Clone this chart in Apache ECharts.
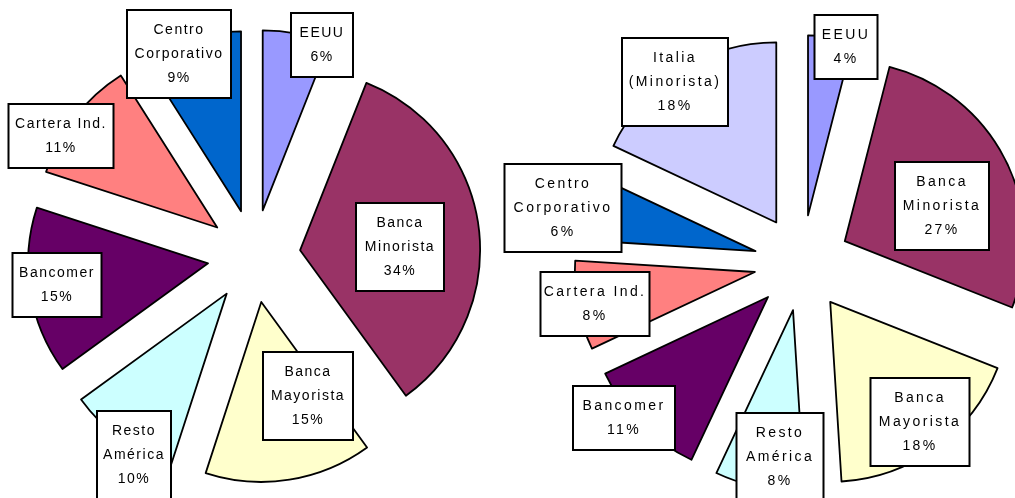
<!DOCTYPE html>
<html>
<head>
<meta charset="utf-8">
<script src="https://cdn.jsdelivr.net/npm/echarts@6/dist/echarts.min.js"></script>
<style>
html,body{margin:0;padding:0;background:#fff;}
#c{width:1015px;height:498px;}
</style>
</head>
<body>
<div id="c"></div>
<script>
// ---- data ----
const leftNames = ['EEUU', 'Banca\nMinorista', 'Banca\nMayorista', 'Resto\nAmérica', 'Bancomer', 'Cartera Ind.', 'Centro\nCorporativo'];
const leftValues = [6, 34, 15, 10, 15, 11, 9];
const rightNames = ['EEUU', 'Banca\nMinorista', 'Banca\nMayorista', 'Resto\nAmérica', 'Bancomer', 'Cartera Ind.', 'Centro\nCorporativo', 'Italia\n(Minorista)'];
const rightValues = [4, 27, 18, 8, 11, 8, 6, 18];

// ---- styles ----
const colorByName = {
  'EEUU': '#9999FF',
  'Banca\nMinorista': '#993366',
  'Banca\nMayorista': '#FFFFCC',
  'Resto\nAmérica': '#CCFFFF',
  'Bancomer': '#660066',
  'Cartera Ind.': '#FF8080',
  'Centro\nCorporativo': '#0066CC',
  'Italia\n(Minorista)': '#CCCCFF'
};
// label box layout: [centerX, centerY, boxWidth]
const leftLabelBox = [[322, 45, 60], [400, 247, 86], [308, 396, 88], [134, 455, 72], [57, 285, 87], [61, 136, 103], [179, 54, 102]];
const rightLabelBox = [[846, 47, 61], [942, 206, 92], [920, 422, 97], [780, 457, 85], [624, 418, 100], [595, 304, 107], [563, 208, 115], [675, 82, 104]];

const LEFT_FONT = "'Liberation Sans', sans-serif";
const RIGHT_FONT = "'Liberation Sans', Arial";

// letter spacing as in the reference's label text
(function () {
  const proto = CanvasRenderingContext2D.prototype;
  const origFill = proto.fillText;
  proto.fillText = function () {
    const f = this.font || '';
    if ('letterSpacing' in this) {
      const prev = this.letterSpacing;
      this.letterSpacing = f.indexOf('Arial') >= 0 ? '2.4px' : '1.5px';
      const r = origFill.apply(this, arguments);
      this.letterSpacing = prev;
      return r;
    }
    return origFill.apply(this, arguments);
  };
})();

const PAD_X = 7;
const R = 180;

// exploded slices
function sliceSeries(names, values, center, offset) {
  return {
    type: 'pie',
    center: center,
    radius: R,
    startAngle: 90,
    clockwise: true,
    selectedMode: 'multiple',
    selectedOffset: offset,
    animation: false,
    silent: true,
    z: 2,
    itemStyle: { borderColor: '#000', borderWidth: 1.8 },
    label: { show: false },
    labelLine: { show: false },
    emphasis: { disabled: true },
    data: names.map((n, i) => ({
      name: n,
      value: values[i],
      selected: true,
      itemStyle: { color: colorByName[n] }
    }))
  };
}

// boxed labels (same data, invisible sectors)
function labelSeries(names, values, center, boxes, font) {
  return {
    type: 'pie',
    center: center,
    radius: R,
    startAngle: 90,
    clockwise: true,
    selectedMode: false,
    avoidLabelOverlap: false,
    animation: false,
    silent: true,
    z: 5,
    itemStyle: { color: 'rgba(0,0,0,0)', borderWidth: 0 },
    label: {
      show: true,
      position: 'inside',
      formatter: p => p.name + '\n' + p.value + '%',
      color: '#000',
      fontSize: 14,
      fontFamily: font,
      lineHeight: 24,
      backgroundColor: '#fff',
      borderColor: '#000',
      borderWidth: 2,
      padding: [3, PAD_X, 11, PAD_X]
    },
    labelLine: { show: false },
    labelLayout: function (p) {
      const b = boxes[p.dataIndex];
      return { x: b[0], y: b[1], align: 'center', verticalAlign: 'middle', width: b[2] - 2 * PAD_X };
    },
    emphasis: { disabled: true },
    data: names.map((n, i) => ({ name: n, value: values[i] }))
  };
}

const chart = echarts.init(document.getElementById('c'), null, { renderer: 'canvas' });
chart.setOption({
  backgroundColor: '#fff',
  animation: false,
  series: [
    sliceSeries(leftNames, leftValues, [254, 256], 46.5),
    sliceSeries(rightNames, rightValues, [802, 263], 48),
    labelSeries(leftNames, leftValues, [254, 256], leftLabelBox, LEFT_FONT),
    labelSeries(rightNames, rightValues, [802, 263], rightLabelBox, RIGHT_FONT)
  ]
});
</script>
</body>
</html>
